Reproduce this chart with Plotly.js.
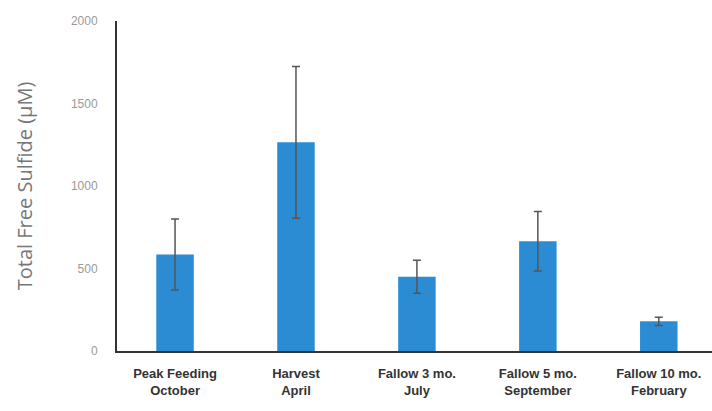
<!DOCTYPE html>
<html>
<head>
<meta charset="utf-8">
<script src="https://cdn.plot.ly/plotly-3.0.1.min.js"></script>
<style>html,body{margin:0;padding:0;background:#fff;}#chart{width:712px;height:411px;}</style>
</head>
<body>
<div id="chart"></div>
<script>
const categories = ["Peak Feeding<br>October", "Harvest<br>April", "Fallow 3 mo.<br>July", "Fallow 5 mo.<br>September", "Fallow 10 mo.<br>February"];
const sulfide = [585, 1265, 450, 665, 180];
const sulfideErr = [215, 460, 100, 180, 25];
const yTicks = [0, 500, 1000, 1500, 2000];

const trace = {
  type: 'bar',
  x: categories,
  y: sulfide,
  marker: {color: '#2b8cd3'},
  error_y: {type: 'data', array: sulfideErr, visible: true, color: '#555', thickness: 1.5, width: 4},
  hoverinfo: 'none'
};

const layout = {
  width: 712, height: 411,
  margin: {l: 117, r: 0, t: 21, b: 60},
  paper_bgcolor: '#fff', plot_bgcolor: '#fff',
  showlegend: false,
  bargap: 0.69,
  xaxis: {
    type: 'category',
    range: [-0.48, 4.44],
    showline: true, linecolor: '#333', linewidth: 2,
    ticks: '', showgrid: false, zeroline: false,
    ticklabelstandoff: 9,
    tickfont: {family: 'Liberation Sans, Arial, sans-serif', size: 13, color: '#333', weight: 'bold'}
  },
  yaxis: {
    range: [0, 2000],
    tickvals: yTicks,
    showline: true, linecolor: '#333', linewidth: 2,
    ticks: '', showgrid: false, zeroline: false,
    ticklabelstandoff: 15,
    tickfont: {family: 'Liberation Sans, Arial, sans-serif', size: 12, color: '#999'},
    title: {text: 'Total Free Sulfide (μM)', standoff: 33,
            font: {family: 'Open Sans, Liberation Sans, sans-serif', size: 20, color: '#777'}}
  }
};

Plotly.newPlot('chart', [trace], layout, {staticPlot: true, displayModeBar: false});
</script>
</body>
</html>
